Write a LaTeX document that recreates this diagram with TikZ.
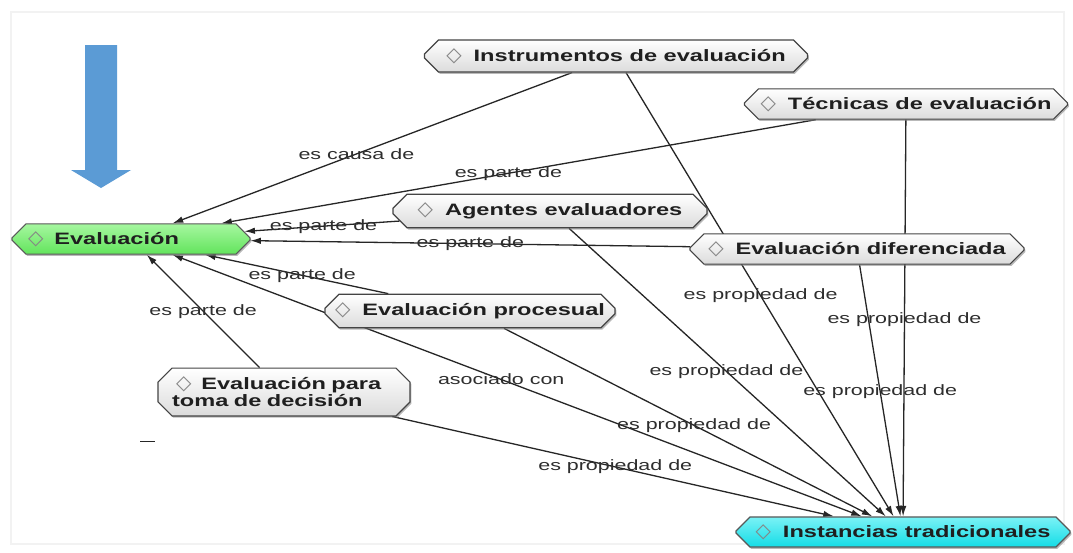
\documentclass[tikz,border=0pt]{standalone}
\usepackage{fontspec}
\setmainfont{Liberation Sans}
\newfontfamily\widefont[FakeStretch=1.43]{Liberation Sans}
\newfontfamily\symfont{DejaVu Sans}
\usetikzlibrary{shapes.misc,shadows,arrows.meta,backgrounds}

\definecolor{linkgray}{HTML}{262626}
\definecolor{labgray}{HTML}{2E2E2E}
\definecolor{boxedge}{HTML}{444444}
\definecolor{diagray}{HTML}{858585}
\definecolor{arrowblue}{HTML}{5B9BD5}
\definecolor{greentop}{HTML}{A6F7A0}
\definecolor{greenbot}{HTML}{62E45C}
\definecolor{cyantop}{HTML}{7AF2F6}
\definecolor{cyanbot}{HTML}{14DCE6}

\newcommand\dmd{\smash{\symfont\fontsize{20}{14}\selectfont\textcolor{diagray}{◇}}}

\tikzset{
  concept/.style={chamfered rectangle, chamfered rectangle xsep=7pt,
    chamfered rectangle ysep=7pt, inner xsep=0pt, inner ysep=2pt,
    draw=boxedge, line width=1.2pt, top color=white, bottom color=black!14,
    drop shadow={shadow xshift=1.3pt, shadow yshift=-1.8pt, opacity=0.55},
    font=\widefont\bfseries\fontsize{16.5}{14}\selectfont, text=black!88},
  tip/.tip={Latex[length=10.5pt,width=6.5pt]},
  link/.style={draw=linkgray, line width=1.3pt, -tip},
  lab/.style={font=\widefont\fontsize{15}{15}\selectfont, text=labgray,
    inner sep=1pt}
}

\begin{document}
\begin{tikzpicture}[x=1pt,y=-1pt]
\useasboundingbox (0,0) rectangle (1073,552);

% concept boxes
\node[concept, minimum width=383pt, minimum height=32pt] (instr) at (616,56)
  {\dmd\hspace{12pt}Instrumentos de evaluación};
\node[concept, minimum width=323pt, minimum height=29pt] (tecn) at (906,104)
  {\dmd\hspace{12pt}Técnicas de evaluación};
\node[concept, minimum width=314pt, minimum height=29pt] (agen) at (550,211)
  {\dmd\hspace{12pt}Agentes evaluadores};
\node[concept, minimum width=334pt, minimum height=29pt] (dife) at (857,249)
  {\dmd\hspace{12pt}Evaluación diferenciada};
\node[concept, minimum width=290pt, minimum height=29pt] (proc) at (470,311)
  {\dmd\hspace{12pt}Evaluación procesual};
\node[concept, minimum height=42pt, text width=224pt, inner xsep=7pt,
  align=left] (toma) at (284,392)
  {\hspace*{4pt}\dmd\hspace{10pt}Evaluación para\\[1pt]toma de decisión};
\node[concept, minimum height=27pt, text width=206pt, inner xsep=9pt,
  align=left, top color=greentop, bottom color=greenbot, draw=black!65]
  (eval) at (131,239) {\dmd\hspace{11pt}Evaluación};
\node[concept, minimum width=334pt, minimum height=29pt,
  top color=cyantop, bottom color=cyanbot, draw=black!65]
  (inst) at (903,532) {\dmd\hspace{12pt}Instancias tradicionales};

% links between concepts, kept behind the boxes
\begin{scope}[on background layer]
  \fill[white] (0,0) rectangle (1073,552);
  \draw[black!5, line width=1.5pt] (11,12) rectangle (1064,544);
  \draw[link] (instr) -- node[lab, pos=0.54] {es causa de} (eval);
  \draw[link] (tecn) -- node[lab, pos=0.517] {es parte de} (eval);
  \draw[link] (agen) -- node[lab, pos=0.49] {es parte de} (eval);
  \draw[link] (dife) -- node[lab, pos=0.5] {es parte de} (eval);
  \draw[link] (proc) -- node[lab, pos=0.47] {es parte de} (eval);
  \draw[link] (toma) -- node[lab, pos=0.5] {es parte de} (eval);
  \draw[link, tip-tip] (eval) -- node[lab, pos=0.477] {asociado con} (inst);
  \draw[link] (toma) -- node[lab, pos=0.505] {es propiedad de} (inst);
  \draw[link] (proc) -- node[lab, pos=0.516] {es propiedad de} (inst);
  \draw[link] (agen) -- node[lab, pos=0.497] {es propiedad de} (inst);
  \draw[link] (instr) -- node[lab, pos=0.503] {es propiedad de} (inst);
  \draw[link] (tecn) -- node[lab, pos=0.505] {es propiedad de} (inst);
  \draw[link] (dife) -- node[lab, pos=0.505] {es propiedad de} (inst);
\end{scope}

% block arrow pointing down at the root concept
\fill[arrowblue] (85,45) -- (117,45) -- (117,170) -- (131,170) -- (101,188)
  -- (71,170) -- (85,170) -- cycle;

% stray dash
\draw[linkgray, line width=1pt] (140,441) -- (155,441);
\end{tikzpicture}
\end{document}
